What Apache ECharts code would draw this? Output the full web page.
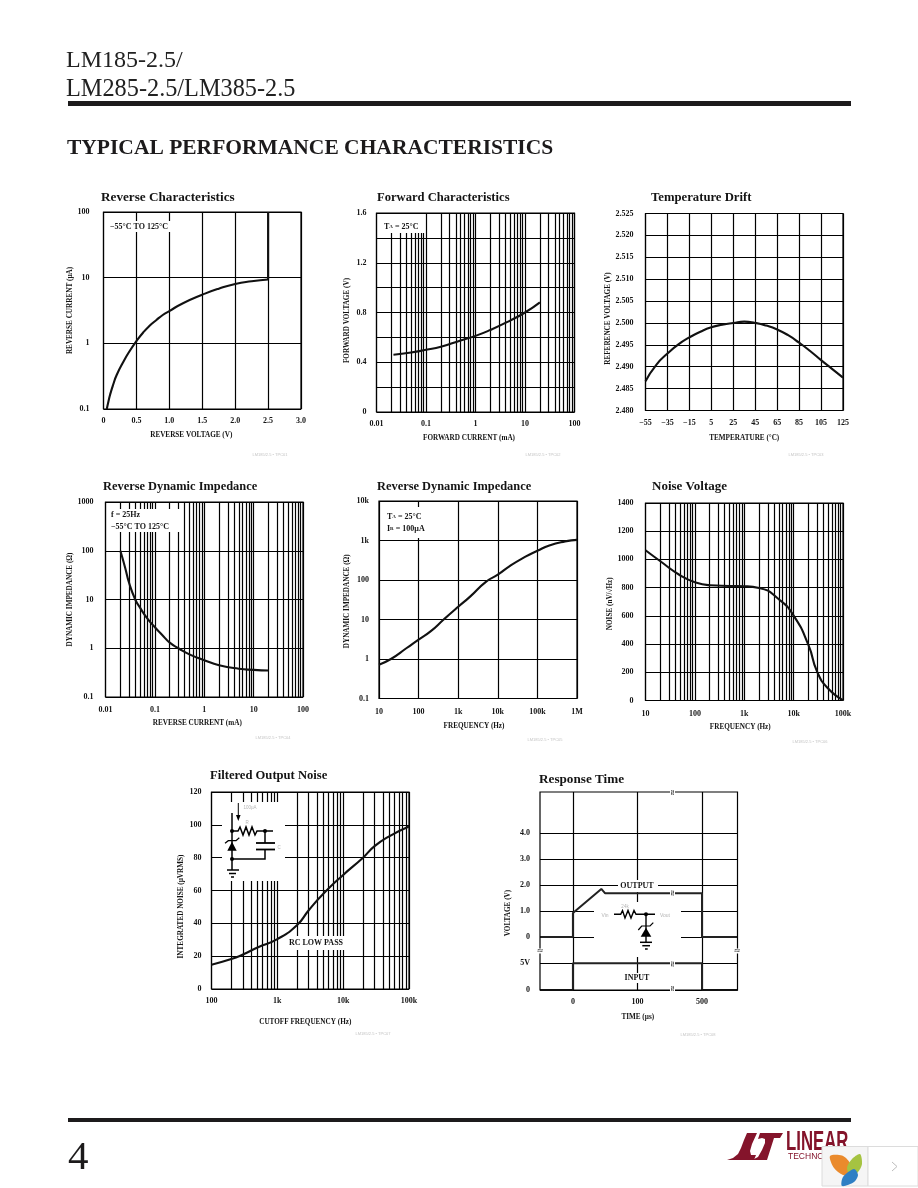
<!DOCTYPE html>
<html><head><meta charset="utf-8">
<style>html,body{margin:0;padding:0;background:#fff}#c{width:918px;height:1188px}</style>
<script src="https://cdn.jsdelivr.net/npm/echarts@6/dist/echarts.min.js"></script>
</head><body><div id="c"></div>
<script>
// ---------- data ----------
const revCharV = [0.05,0.075,0.1,0.15,0.2,0.3,0.4,0.5,0.6,0.7,0.8,0.9,1,1.2,1.5,1.75,2,2.25,2.5];
const revCharI = [0.1,0.13,0.165,0.24,0.33,0.52,0.77,1.08,1.45,1.85,2.25,2.7,3.1,4.05,5.5,6.8,8,8.8,9.4];
const revBreakV = [2.5,2.5];
const revBreakI = [9.4,100];
const fwdI = [0.022,0.05,0.1,0.2,0.5,1,2,5,10,20];
const fwdV = [0.46,0.478,0.5,0.525,0.575,0.612,0.66,0.735,0.8,0.882];
const driftT = [-55,-45,-35,-25,-15,-5,5,15,25,35,45,55,65,75,85,95,105,115,125];
const driftV = [2.4867,2.4905,2.493,2.4951,2.4967,2.498,2.499,2.4996,2.5,2.5003,2.5,2.4994,2.4985,2.4972,2.4955,2.4936,2.4915,2.4895,2.4875];
const zdI = [0.02,0.025,0.03,0.04,0.05,0.07,0.1,0.15,0.2,0.3,0.5,1,2,5,10,20];
const zdZ = [100,45,22,10,6.8,4.1,2.7,1.75,1.3,1,0.75,0.57,0.45,0.38,0.36,0.35];
const zfF = [10,20,50,100,200,430,1000,2000,5000,10000,20000,50000,100000,200000,500000,1000000];
const zfZ = [0.72,1,1.9,3.1,5,10,21,38,90,136,225,390,550,750,950,1040];
const noiseF = [10,20,50,100,200,500,1000,2000,5000,10000,20000,30000,50000,100000];
const noiseN = [1065,987,888,838,817,812,810,798,718,602,392,203,85,3];
const filtF = [100,200,300,500,1000,2000,3000,5000,10000,20000,30000,50000,100000];
const filtN = [14.8,18.2,21,25.3,30.4,39,48,58,69.5,80,87,93,99];
const respOutT = [-51,0,0,44,50,500,500,555];
const respOutV = [0,0,0.92,1.85,1.68,1.68,0,0];
const respInT = [-51,0,0,500,500,555];
const respInV = [0,0,5,5,0,0];

const xLabRev = ['0','0.5','1.0','1.5','2.0','2.5','3.0'];
const yLabDec = ['0.1','1','10','100'];
const xLabCur = ['0.01','0.1','1','10','100'];
const yLabFwd = ['0','','0.4','','0.8','','1.2','','1.6'];
const xLabTemp = ['−55','−35','−15','5','25','45','65','85','105','125'];
const yLabTemp = ['2.480','2.485','2.490','2.495','2.500','2.505','2.510','2.515','2.520','2.525'];
const yLabZd = ['0.1','1','10','100','1000'];
const xLabZf = ['10','100','1k','10k','100k','1M'];
const yLabZf = ['0.1','1','10','100','1k','10k'];
const xLabNoise = ['10','100','1k','10k','100k'];
const yLabNoise = ['0','200','400','600','800','1000','1200','1400'];
const xLabFilt = ['100','1k','10k','100k'];
const yLabFilt = ['0','20','40','60','80','100','120'];
const respXTicks = [0,100,500];
const respUpperY = [0,1,2,3,4];
const respUpperLab = ['0','1.0','2.0','3.0','4.0'];
const respLowerY = [0,5];
const respLowerLab = ['0','5V'];
const logMult = [2,3,4,5,6,7,8,9];

// ---------- helpers ----------
const SERIF = '"Liberation Serif","DejaVu Serif",serif';
const INK = '#141414';
const GRIDW = 1.2;
const lab = {fontFamily:SERIF,fontSize:8,fontWeight:'bold',color:INK};
const grids=[],xAxes=[],yAxes=[],series=[],gfx=[];

function decades(min,max){const o=[];for(let e=Math.round(Math.log10(min));e<=Math.round(Math.log10(max));e++)o.push(+('1e'+e));return o;}
function minorLines(min,max){const o=[];decades(min,max).forEach(d=>{if(d<max)logMult.forEach(m=>o.push(+(d*m).toPrecision(3)));});return o;}

function axis(kind,a,name,labs,extra){
  const isLog=a.log;
  const base={type:isLog?'log':'value',min:a.min,max:a.max,gridIndex:grids.length-1,
    axisLine:{show:false},axisTick:{show:false},
    axisLabel:Object.assign({},lab,{margin:a.margin,showMinLabel:true,showMaxLabel:true,hideOverlap:false,
      formatter:isLog?(v=>labs[Math.round(Math.log10(v/a.min))]):((v,i)=>labs[Math.round((v-a.min)/a.interval)])}),
    splitLine:{show:!isLog&&!a.noSplit,lineStyle:{color:'#000',width:GRIDW}},
    name:name,nameLocation:'middle',nameGap:a.nameGap,
    nameTextStyle:{fontFamily:SERIF,fontSize:7.2,fontWeight:'bold',color:INK,padding:a.pad||0}};
  if(isLog)base.logBase=10; else base.interval=a.interval;
  return Object.assign(base,extra||{});
}
function gridLines(idx,dim,vals){
  series.push({type:'line',xAxisIndex:idx,yAxisIndex:idx,data:[],z:1,silent:true,symbol:'none',animation:false,
    markLine:{silent:true,symbol:'none',animation:false,label:{show:false},lineStyle:{color:'#000',width:GRIDW,type:'solid'},
      data:vals.map(v=>({[dim]:v}))}});
}
function curve(idx,name,xs,ys,smooth){
  series.push({type:'line',name:name,xAxisIndex:idx,yAxisIndex:idx,data:xs.map((v,i)=>[v,ys[i]]),smooth:smooth,
    showSymbol:false,symbol:'none',z:5,animation:false,lineStyle:{color:'#111',width:2.1}});
}
function chart(c){
  const idx=grids.length;
  grids.push({left:c.box[0],top:c.box[1],width:c.box[2],height:c.box[3],show:true,borderColor:'#000',borderWidth:GRIDW,backgroundColor:'#fff',containLabel:false});
  xAxes.push(axis('x',c.x,c.xName,c.xLab));
  yAxes.push(axis('y',c.y,c.yName,c.yLab));
  if(c.x.log)gridLines(idx,'xAxis',decades(c.x.min,c.x.max).concat(c.x.minor===false?[]:minorLines(c.x.min,c.x.max)));
  if(c.y.log)gridLines(idx,'yAxis',decades(c.y.min,c.y.max));
  curve(idx,c.title,c.xs,c.ys,0.55);
  if(c.xs2)curve(idx,c.title+' breakdown',c.xs2,c.ys2,false);
  text(c.title,c.tp[0],c.tp[1]+0.5,{font:'bold '+(c.tf||13.2)+'px '+SERIF});
  text(c.fig,c.fp[0],c.fp[1],{font:'4px "Liberation Sans"',fill:'#c4c4c4',align:'center'});
}
function text(t,x,y,o){o=o||{};gfx.push({type:'text',z:o.z||100,x:x,y:y,silent:true,scaleX:o.sx||1,rotation:o.rot||0,
  style:{text:t,font:o.font||('bold 8px '+SERIF),fill:o.fill||INK,textAlign:o.align||'left',textVerticalAlign:o.va||'middle',rich:o.rich}});}
function rect(x,y,w,h,fill,z,stroke){gfx.push({type:'rect',z:z||90,silent:true,shape:{x,y,width:w,height:h},style:{fill:fill||'#fff',stroke:stroke||null,lineWidth:stroke?1:0}});}
function seg(pts,w,col,z){gfx.push({type:'polyline',z:z||101,silent:true,shape:{points:pts},style:{stroke:col||'#000',lineWidth:w||1.2,fill:null}});}
function poly(pts,col,z,smooth){gfx.push({type:'polygon',z:z||101,silent:true,shape:{points:pts,smooth:smooth||0},style:{fill:col||'#000'}});}
function dot(x,y,r){gfx.push({type:'circle',z:102,silent:true,shape:{cx:x,cy:y,r:r||2},style:{fill:'#000'}});}

// ---------- the charts ----------
chart({title:'Reverse Characteristics',tp:[101,197],fig:'LM185/2.5 • TPC01',fp:[270,455],box:[103.5,212,197.5,197],
  x:{min:0,max:3,interval:0.5,margin:8,nameGap:23,pad:[0,22,0,0]},y:{log:true,min:0.1,max:100,margin:14,nameGap:25},
  xName:'REVERSE VOLTAGE (V)',yName:'REVERSE CURRENT (µA)',xLab:xLabRev,yLab:yLabDec,xs:revCharV,ys:revCharI,xs2:revBreakV,ys2:revBreakI});
chart({title:'Forward Characteristics',tf:12.6,tp:[377,197],fig:'LM185/2.5 • TPC02',fp:[543,455],box:[376.5,213,198,199],
  x:{log:true,min:0.01,max:100,margin:8,nameGap:23,pad:[0,13,0,0]},y:{min:0,max:1.6,interval:0.2,margin:10,nameGap:26,pad:[0,16,0,0]},
  xName:'FORWARD CURRENT (mA)',yName:'FORWARD VOLTAGE (V)',xLab:xLabCur,yLab:yLabFwd,xs:fwdI,ys:fwdV});
chart({title:'Temperature Drift',tf:12.7,tp:[651,197],fig:'LM185/2.5 • TPC03',fp:[806,455],box:[645.5,213.5,197.5,197],
  x:{min:-55,max:125,interval:20,margin:8,nameGap:24},y:{min:2.48,max:2.525,interval:0.005,margin:12,nameGap:33,pad:[0,13,0,0]},
  xName:'TEMPERATURE (°C)',yName:'REFERENCE VOLTAGE (V)',xLab:xLabTemp,yLab:yLabTemp,xs:driftT,ys:driftV});
chart({title:'Reverse Dynamic Impedance',tf:12.4,tp:[103,486],fig:'LM185/2.5 • TPC04',fp:[273,738],box:[105.5,502,197.5,195],
  x:{log:true,min:0.01,max:100,margin:9,nameGap:23,pad:[0,14,0,0]},y:{log:true,min:0.1,max:1000,margin:12,nameGap:26},
  xName:'REVERSE CURRENT (mA)',yName:'DYNAMIC IMPEDANCE (Ω)',xLab:xLabCur,yLab:yLabZd,xs:zdI,ys:zdZ});
chart({title:'Reverse Dynamic Impedance',tf:12.4,tp:[377,486],fig:'LM185/2.5 • TPC05',fp:[545,740],box:[379,501,198,197.5],
  x:{log:true,min:10,max:1000000,margin:9,nameGap:24,minor:false,pad:[0,8,0,0]},y:{log:true,min:0.1,max:10000,margin:10,nameGap:28,pad:[0,3,0,0]},
  xName:'FREQUENCY (Hz)',yName:'DYNAMIC IMPEDANCE (Ω)',xLab:xLabZf,yLab:yLabZf,xs:zfF,ys:zfZ});
chart({title:'Noise Voltage',tf:13,tp:[652,486],fig:'LM185/2.5 • TPC06',fp:[810,742],box:[645.5,503,197.5,197.5],
  x:{log:true,min:10,max:100000,margin:9,nameGap:23,pad:[0,8,0,0]},y:{min:0,max:1400,interval:200,margin:12,nameGap:26,pad:[0,4,0,0]},
  xName:'FREQUENCY (Hz)',yName:'NOISE (nV/√Hz)',xLab:xLabNoise,yLab:yLabNoise,xs:noiseF,ys:noiseN});
chart({title:'Filtered Output Noise',tf:12.6,tp:[210,775],fig:'LM185/2.5 • TPC07',fp:[373,1034],box:[211.5,792,197.5,197],
  x:{log:true,min:100,max:100000,margin:8,nameGap:30,pad:[0,10,0,0]},y:{min:0,max:120,interval:20,margin:10,nameGap:27,pad:[0,32,0,0]},
  xName:'CUTOFF FREQUENCY (Hz)',yName:'INTEGRATED NOISE (µVRMS)',xLab:xLabFilt,yLab:yLabFilt,xs:filtF,ys:filtN});

// Response Time: two stacked panels sharing a broken time axis
const TBREAK=[{start:150,end:450,gap:0}];
function respX(showLabels){
  return {type:'value',min:-51,max:555,gridIndex:grids.length-1,breaks:TBREAK,breakArea:{show:false},
    axisLine:{show:false},axisTick:{show:false},splitLine:{show:false},
    axisLabel:Object.assign({},lab,{show:showLabels,margin:8,customValues:respXTicks,formatter:v=>String(v)}),
    name:showLabels?'TIME (µs)':'',nameLocation:'middle',nameGap:24,nameTextStyle:{fontFamily:SERIF,fontSize:7.2,fontWeight:'bold',color:INK,padding:[0,2,0,0]}};
}
function respY(min,max,ticks,labs){
  return {type:'value',min:min,max:max,gridIndex:grids.length-1,axisLine:{show:false},axisTick:{show:false},splitLine:{show:false},
    axisLabel:Object.assign({},lab,{margin:10,customValues:ticks,formatter:v=>labs[ticks.indexOf(v)]})};
}
function respPanel(box,y,ticks,labs,xs,ys,showX){
  const idx=grids.length;
  grids.push({left:box[0],top:box[1],width:box[2],height:box[3],show:false});
  xAxes.push(respX(showX)); yAxes.push(respY(y[0],y[1],ticks,labs));
  gridLines(idx,'xAxis',respXTicks); gridLines(idx,'yAxis',ticks);
  series.push({type:'line',xAxisIndex:idx,yAxisIndex:idx,data:xs.map((v,i)=>[v,ys[i]]),showSymbol:false,symbol:'none',z:5,animation:false,
    lineStyle:{color:'#222',width:2}});
}
respPanel([540,792,197.5,158],[-0.5,5.58],respUpperY,respUpperLab,respOutT,respOutV,false);
respPanel([540,950,197.5,40],[0,7.5],respLowerY,respLowerLab,respInT,respInV,true);
gfx.push({type:'rect',z:60,silent:true,shape:{x:540,y:792,width:197.5,height:198},style:{fill:null,stroke:'#000',lineWidth:GRIDW}});
text('Response Time',539,779.5,{font:'bold 13.2px '+SERIF});
text('LM185/2.5 • TPC08',698,1035,{font:'4px "Liberation Sans"',fill:'#c4c4c4',align:'center'});
text('VOLTAGE (V)',508,913,{rot:Math.PI/2,align:'center',font:'bold 7.2px '+SERIF});

// ---------- annotations inside plots ----------
const SUB={s:{fontSize:5,fontWeight:'bold',fontFamily:SERIF,fill:INK}};
rect(108,221,72,11); text('−55°C TO 125°C',110,227);
rect(378,214,47,19); text('T{s|A} = 25°C',384,227,{rich:SUB});
rect(108,509,72,23); text('f = 25Hz',111,515); text('−55°C TO 125°C',111,527);
rect(382,507,55,31); text('T{s|A} = 25°C',387,517,{rich:SUB}); text('I{s|R} = 100µA',387,529,{rich:SUB});
rect(286,936,60,14); text('RC LOW PASS',316,943,{align:'center'});
rect(618,880,40,12); text('OUTPUT',637,886,{align:'center'});
rect(622,973,30,10); text('INPUT',637,978,{align:'center'});

// circuit: filtered output noise
rect(222,802,63,79);
seg([[232,813],[232,870]],1.5); dot(232,831); dot(232,859); dot(265,831);
seg([[238.3,803],[238.3,816]],1); poly([[236,815],[240.6,815],[238.3,821]]);
seg([[232,831],[238,831],[240,827],[243,835],[246,827],[249,835],[252,827],[255,835],[257,831],[273,831]],1.5);
seg([[265,831],[265,843]],1.5); seg([[256,843],[275,843]],1.8); seg([[256,849.5],[275,849.5]],1.8);
seg([[265,849.5],[265,859],[232,859]],1.5);
poly([[227.3,850.7],[236.7,850.7],[232,841.7]]);
seg([[225,843.3],[228.3,840.7],[236,840.7],[239.3,837.7]],1.2);
seg([[227,870],[239,870]],1.5); seg([[229,873.5],[236,873.5]],1.5); seg([[231,877],[234,877]],1.5);
text('100µA',250,808,{font:'4.5px "Liberation Sans"',fill:'#b5b5b5',align:'center'});
text('R',247,823,{font:'4.5px "Liberation Sans"',fill:'#b5b5b5',align:'center'});
text('C',279,848,{font:'4.5px "Liberation Sans"',fill:'#b5b5b5',align:'center'});

// circuit: response time
rect(594,902,87,55);
seg([[614,914.3],[620.7,914.3],[622.5,910.5],[625,918],[628,910.5],[631,918],[634,910.5],[636,914.3],[655,914.3]],1.4);
dot(646,914.3); seg([[646,914.3],[646,943]],1.4);
poly([[640.7,936.7],[651.3,936.7],[646,927.7]]);
seg([[638.3,930],[641.7,926],[650,926],[653.3,922.7]],1.2);
seg([[640,942.3],[652,942.3]],1.5); seg([[642.3,945.7],[650,945.7]],1.5); seg([[645,949],[647.7,949]],1.5);
text('24k',625,906.5,{font:'4.5px "Liberation Sans"',fill:'#b5b5b5',align:'center'});
text('Vin',605,916,{font:'5px "Liberation Sans"',fill:'#b5b5b5',align:'center'});
text('Vout',665,916,{font:'5px "Liberation Sans"',fill:'#b5b5b5',align:'center'});

// axis-break marks
[[672.5,792.5],[672.5,893],[672.5,964],[672.5,988.5]].forEach(p=>{rect(670,p[1]-3,5,6,'#fff',95);text('≈',p[0],p[1],{rot:Math.PI/2,align:'center',font:'8px "DejaVu Sans"'});});
[[540,951],[737,951]].forEach(p=>{rect(p[0]-3,p[1]-2.5,6,5,'#fff',95);text('≈',p[0],p[1],{align:'center',font:'8px "DejaVu Sans"'});});

// ---------- page furniture ----------
text('LM185-2.5/',66,60.5,{font:'24px '+SERIF,fill:'#222'});
text('LM285-2.5/LM385-2.5',66,90,{font:'24.3px '+SERIF,fill:'#222'});
rect(68,101,783,5,'#1d1b1c',100);
text('TYPICAL PERFORMANCE CHARACTERISTICS',67,148.5,{font:'bold 21.5px '+SERIF,fill:'#1c1a1b'});
rect(68,1118,783,4,'#1d1b1c',100);
text('4',68,1158.5,{font:'41px '+SERIF,fill:'#1c1a1b'});

// logo
const RED='#84142b';
poly([[727,1160],[733,1158],[738,1154],[741,1148],[744,1140],[747,1133],[757,1133],[752,1144],[750,1151],[751,1155],[756,1155],[754,1160]],RED,150);
poly([[760,1133],[783,1133],[780,1138],[774,1138],[767,1160],[752,1160],[758,1157],[762,1150],[765,1143],[765,1139],[762,1138],[758,1139]],RED,150);
text('LINEAR',786,1143,{font:'bold 27px "Liberation Sans"',fill:RED,sx:0.62});
text('TECHNOLOGY',788,1157,{font:'8.5px "Liberation Sans"',fill:RED});

// bottom-right widget
rect(822,1146.5,46,39.5,'#f5f5f5',200,'#dcdcdc');
rect(868,1146.5,50,39.5,'#ffffff',200,'#dcdcdc');
poly([[830,1156],[842,1155.5],[850,1163],[853,1176],[843,1175],[834,1168]],'#ea8a2c',210,0.3);
poly([[860,1154],[862,1164],[858,1172],[851,1177],[847,1168],[852,1159]],'#a5c341',210,0.3);
poly([[854,1169],[858,1175],[854,1182],[842,1186],[843,1177]],'#2f7fc4',210,0.3);
seg([[892,1162],[897,1166.5],[892,1171]],1,'#bdbdbd',210);

echarts.init(document.getElementById('c'),null,{renderer:'canvas',width:918,height:1188}).setOption({
  animation:false,backgroundColor:'#fff',grid:grids,xAxis:xAxes,yAxis:yAxes,series:series,graphic:{elements:gfx}
});
</script></body></html>
